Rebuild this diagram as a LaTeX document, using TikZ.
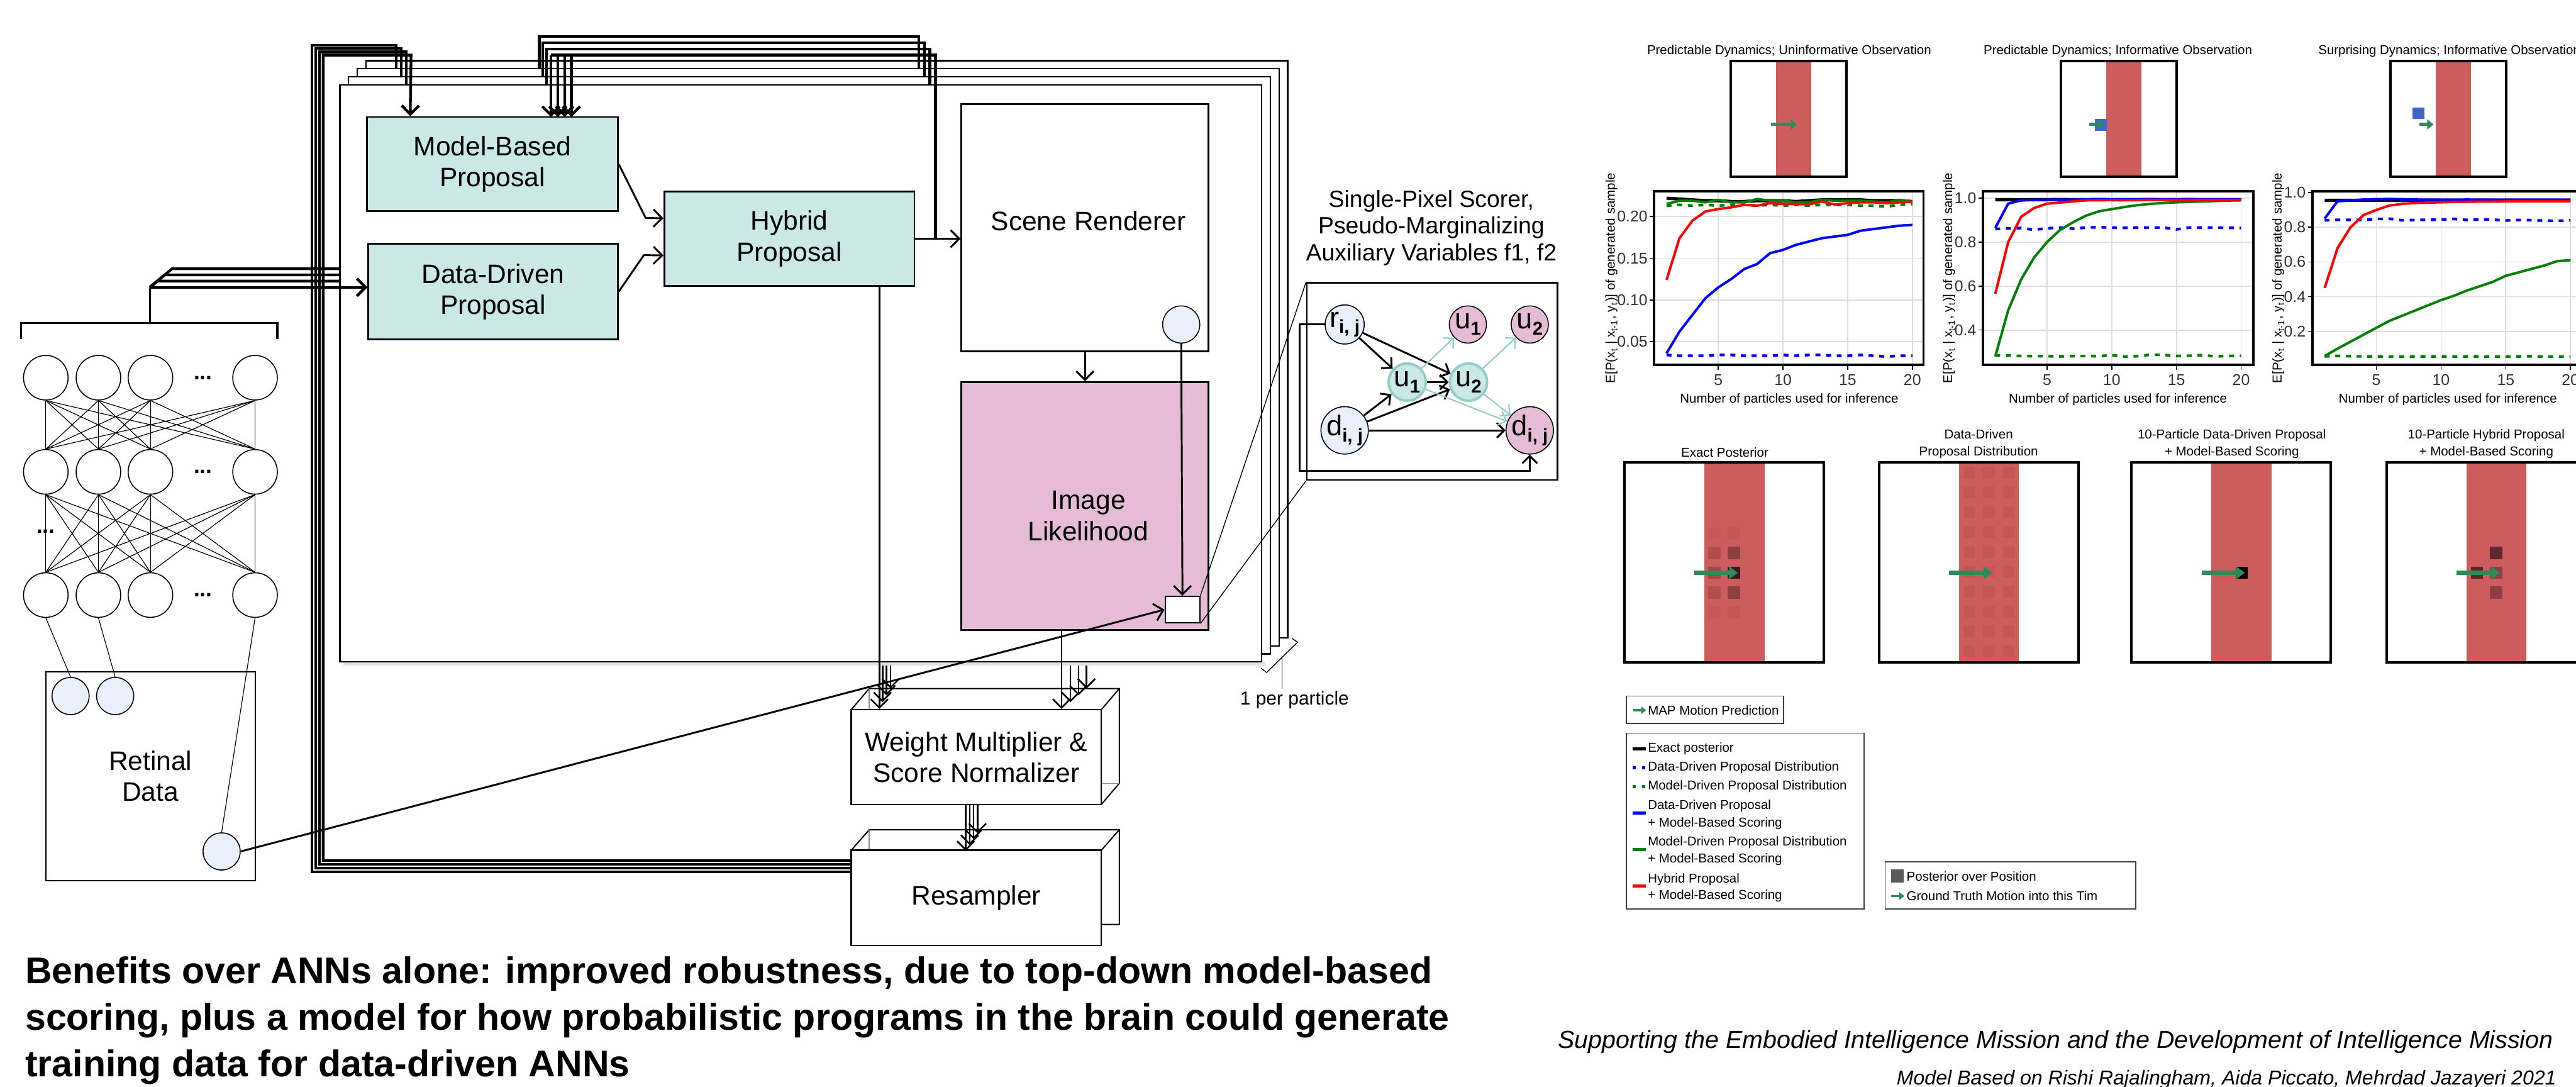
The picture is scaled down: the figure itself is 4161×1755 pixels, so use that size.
\documentclass[tikz,border=0pt]{standalone}
\usepackage{fontspec}
\setmainfont{Liberation Sans}
\usetikzlibrary{arrows.meta,calc}
\definecolor{tealf}{RGB}{201,232,230}
\definecolor{pinkf}{RGB}{230,187,214}
\definecolor{bluef}{RGB}{234,240,250}
\definecolor{tealb}{RGB}{150,204,199}
\definecolor{stripe}{RGB}{205,92,92}
\definecolor{seag}{RGB}{46,139,87}
\definecolor{bsq}{RGB}{65,100,205}
\definecolor{ggreen}{RGB}{0,128,0}
\definecolor{c1}{RGB}{198,88,88}\definecolor{c2}{RGB}{176,78,78}\definecolor{c3}{RGB}{160,72,72}
\definecolor{c4}{RGB}{193,86,86}\definecolor{c5}{RGB}{142,63,63}\definecolor{c6}{RGB}{58,26,26}
\definecolor{c7}{RGB}{196,86,86}\definecolor{c8}{RGB}{92,41,41}\definecolor{c9}{RGB}{96,42,42}
\newcommand\sbx[1]{\raisebox{-0.4ex}{\fontsize{7.5}{7.5}\selectfont\bfseries #1}}
\newcommand\series[3]{\draw[#1] (1,#2) \foreach \v [count=\i from 2] in {#3} {-- (\i,\v)};}
\tikzset{
 mybox/.style={draw, line width=0.7pt, inner sep=0pt, align=center, font=\fontsize{10.8}{12.5}\selectfont},
 tbox/.style={mybox, fill=tealf},
 lbl/.style={inner sep=0pt, align=center, font=\fontsize{10.8}{12.5}\selectfont},
 arr/.style={line width=0.75pt, -{Straight Barb[length=3.5pt,width=7pt]}},
 fbl/.style={line width=1.1pt},
 fba/.style={line width=1.1pt, -{Straight Barb[length=3.5pt,width=7pt]}},
 mla/.style={line width=0.65pt, -{Straight Barb[length=3.5pt,width=7pt]}},
 neuron/.style={circle, draw, line width=0.4pt, minimum size=18pt, inner sep=0pt},
 pix/.style={circle, draw, line width=0.4pt, fill=bluef, minimum size=15pt, inner sep=0pt},
 nedge/.style={line width=0.3pt},
 frm/.style={draw, fill=white, line width=0.6pt},
 dots/.style={inner sep=0pt, font=\fontsize{9}{9}\selectfont\bfseries},
 gnode/.style={circle, draw, line width=0.4pt, minimum size=15pt, inner sep=0pt, font=\fontsize{11.5}{12}\selectfont},
 garr/.style={line width=0.75pt, -{Straight Barb[length=3pt,width=6pt]}},
 tarr/.style={line width=0.55pt, draw=tealb, -{Straight Barb[length=3pt,width=6pt]}},
 ptxt/.style={font=\fontsize{5.2}{7}\selectfont, inner sep=0pt},
 ttxt/.style={font=\fontsize{6.3}{7}\selectfont, inner sep=0pt, text=black!80},
 pborder/.style={draw, line width=1pt},
 gridl/.style={draw=black!13, line width=0.45pt},
 sline/.style={line width=1pt, line join=round},
 dline/.style={line width=1.1pt, dash pattern=on 2pt off 2.3pt},
 motion/.style={draw=seag, line width=1.7pt, -{Triangle[length=3.5pt,width=5pt]}},
 tmotion/.style={draw=seag, line width=1.2pt, -{Triangle[length=2.6pt,width=4pt]}},
}
\begin{document}
\begin{tikzpicture}[x=0.25pt,y=-0.25pt]
\clip (0,0) rectangle (4161,1755);
\fill[white] (0,0) rectangle (4161,1755);

%% ---------------- neural network
\foreach \yy [count=\r] in {610,762,961}{
  \foreach \xx [count=\c] in {74,159,243,412}{
    \node[neuron] (n\r\c) at (\xx,\yy) {};
  }
  \node[dots] at (328,\yy) {...};
}
\node[dots] at (74,858) {...};
\foreach \a in {1,...,4}{\foreach \b in {1,...,4}{
  \draw[nedge] (n1\a.south) -- (n2\b.north);
  \draw[nedge] (n2\a.south) -- (n3\b.north);
}}
\coordinate (brk) at (242,464);
\draw[line width=0.8pt] (34,548) -- (34,522) -- (448,522) -- (448,548);
\draw[line width=0.8pt] (242,522) -- (brk);

%% retinal data
\node[mybox, line width=0.5pt, minimum width=84.5pt, minimum height=84.25pt] (rd) at (243,1253.5) {Retinal\\Data};
\node[pix] (p1) at (114,1124) {};
\node[pix] (p2) at (186,1124) {};
\node[pix] (p3) at (358,1375) {};
\draw[nedge] (n31.south) -- (p1.north);
\draw[nedge] (n32.south) -- (p2.north);
\draw[nedge] (n34.south) -- (p3.north);

%% weight multiplier (cube) and resampler (stack)
\filldraw[fill=white, line width=0.5pt] (1375,1146) -- (1404,1112) -- (1808,1112) -- (1808,1265) -- (1779,1299) -- cycle;
\draw[black!45, line width=0.3pt] (1404,1112) -- (1404,1146) (1779,1265) -- (1808,1265);
\draw[line width=0.5pt] (1779,1146) -- (1808,1112);
\node[mybox, fill=white, line width=0.6pt, minimum width=101pt, minimum height=38.25pt] (wm) at (1577,1222.5) {Weight Multiplier \&\\Score Normalizer};
\filldraw[fill=white, line width=0.5pt] (1375,1373) -- (1404,1340) -- (1808,1340) -- (1808,1493) -- (1779,1493);
\draw[black!45, line width=0.3pt] (1404,1340) -- (1404,1373);
\draw[line width=0.5pt] (1779,1373) -- (1808,1340);
\node[mybox, fill=white, line width=0.6pt, minimum width=101pt, minimum height=38.5pt] (rs) at (1577,1450) {Resampler};
\foreach \i in {0,1,2,3}
  \draw[mla] ($(wm.south)+({-17+6.3*\i},0)$) -- ++(0,{74-9.5*\i});

%% ---------------- stacked particle frames (back to front)
\foreach \k in {3,2,1}{
  \draw[frm] (549+14*\k,137-13*\k) rectangle (2038+14*\k,1069-13*\k);
  \draw[fbl] (1375,1390+6*\k) -- (522-6*\k,1390+6*\k) -- (522-6*\k,89-5.3*\k) -- (664-8*\k,89-5.3*\k) -- (664-8*\k,189-13*\k);
  \draw[fbl] (1511-9*\k,386-13*\k) -- (1511-9*\k,89-10*\k) -- (889-6*\k,89-10*\k) -- (889-6*\k,189-13*\k);
  \draw[fbl] (brk) -- (242+12*\k,464-10*\k) -- (595+14*\k,464-10*\k);
  \draw[mla] (1419+6.5*\k,462-13*\k) -- (1419+6.5*\k,1145-11*\k);
  \draw[mla] (1716+13*\k,1017-13*\k) -- (1716+13*\k,1145-11*\k);
}
% front frame
\fill[black!12] (555,1069) rectangle (2044,1075);
\draw[frm] (549,137) rectangle (2038,1069);
\node[tbox, minimum width=101.25pt, minimum height=38pt] (mb) at (795.5,265) {Model-Based\\Proposal};
\node[tbox, minimum width=100.75pt, minimum height=38.5pt] (dd) at (796.5,471) {Data-Driven\\Proposal};
\node[tbox, minimum width=101pt, minimum height=38.25pt] (hy) at (1275,385.5) {Hybrid\\Proposal};
\node[mybox, fill=white, minimum width=99.75pt, minimum height=99.75pt] (sr) at (1752.5,367.5) {};
\node[lbl] at (1758,357) {Scene Renderer};
\node[mybox, fill=pinkf, minimum width=99.75pt, minimum height=100pt] (il) at (1752.5,817) {};
\node[lbl] at (1758,833) {Image\\Likelihood};
\node[pix] (sc) at (1908,524) {};
\node[draw, fill=white, line width=0.5pt, minimum width=14pt, minimum height=10.75pt, inner sep=0pt] (sq) at (1910,984.5) {};

\draw[arr] (mb.east) -- (1043,352) -- ($(hy.west)+(0,-33)$);
\draw[arr] (dd.east) -- (1040,412) -- ($(hy.west)+(0,27)$);
\draw[arr] (hy.east) -- (sr.west |- hy.east);
\coordinate (jn) at (1511,386);
\draw[arr] (sr.south) -- (il.north);
\draw[arr] (sc.south) -- (sq.north);
% front-layer feedback and data lines
\draw[fba] ($(rs.west)+(0,-60)$) -- (522,1390) -- (522,89) -- (664,89) -- ($(mb.north west)+(71,0)$);
\draw[fbl] (jn) -- (1511,89) -- (890,89);
\foreach \xx in {890,901,912,923} \draw[fba] (\xx,89) -- (\xx,189);
\draw[fba] (brk) -- (brk -| dd.west);
\draw[mla] ($(hy.south east)+(-58,0)$) coordinate (h0) -- (h0 |- wm.north);
\draw[mla] ($(il.south west)+(163,0)$) coordinate (i0) -- (i0 |- wm.north);

%% 1 per particle
\draw[line width=0.35pt] (2037,1079) -- (2046,1086) -- (2096,1037) -- (2087,1031);
\draw[line width=0.35pt] (2071,1061) -- (2071,1112);
\node[inner sep=0pt, font=\fontsize{7.6}{9}\selectfont] at (2091,1130) {1 per particle};

%% ---------------- single pixel scorer
\node[inner sep=0pt, align=center, font=\fontsize{9.5}{10.9}\selectfont] at (2312,368) {Single-Pixel Scorer,\\Pseudo-Marginalizing\\Auxiliary Variables f1, f2};
\node[draw, fill=white, line width=0.7pt, minimum width=101.25pt, minimum height=79.5pt, inner sep=0pt] (scb) at (2313.5,616) {};
\node[gnode, fill=bluef] (r) at (2172,524) {r\sbx{i, j}};
\node[gnode, fill=pinkf] (pu1) at (2371,524) {u\sbx{1}};
\node[gnode, fill=pinkf] (pu2) at (2471,524) {u\sbx{2}};
\node[gnode, fill=tealf, draw=tealb, line width=1pt] (tu1) at (2273,617) {u\sbx{1}};
\node[gnode, fill=tealf, draw=tealb, line width=1pt] (tu2) at (2372,617) {u\sbx{2}};
\node[gnode, fill=bluef] (db) at (2172,695) {d\sbx{i, j}};
\node[gnode, fill=pinkf] (dp) at (2471,695) {d\sbx{i, j}};
\draw[garr] (r) -- (tu1);
\draw[garr] (r) -- (tu2);
\draw[garr] (db) -- (tu1);
\draw[garr] (db) -- (tu2);
\draw[garr] (tu1) -- (tu2);
\draw[garr] (db) -- (dp);
\draw[tarr] (tu1) -- (pu1);
\draw[tarr] (tu2) -- (pu2);
\draw[tarr] (tu1) -- (dp);
\draw[tarr] (tu2) -- (dp);
\draw[garr] (r.west) -- ++(-40,0) |- ($(dp.south)+(0,26)$) -- (dp.south);

%% zoom lines and retinal pixel link
\draw[line width=0.35pt] (sq.north east) -- (scb.north west);
\draw[line width=0.35pt] (sq.south east) -- (scb.south west);
\draw[arr] (p3.east) -- (sq.west);

%% ---------------- plots: thumbnails
\node[ptxt] at (2890,83) {Predictable Dynamics; Uninformative Observation};
\node[ptxt] at (3421,83) {Predictable Dynamics; Informative Observation};
\node[ptxt, anchor=west] at (3744,83) {Surprising Dynamics; Informative Observation};
\foreach \T in {2796,3329,3861}{
  \fill[stripe] (\T+73,99) rectangle (\T+130,285);
}
\fill[bsq] (3384,192) rectangle (3403,211);
\fill[bsq] (3897,174) rectangle (3916,192);
\draw[tmotion] (2861,201) -- (2903,201);
\draw[tmotion] (3375,201) -- (3400,201);
\draw[tmotion] (3908,201) -- (3931,201);
\foreach \T in {2796,3329,3861}{
  \draw[pborder] (\T,99) rectangle (\T+187,285);
}

%% plot 1
\begin{scope}
 \clip (2672,309) rectangle (3107,589);
 \foreach \v in {0.05,0.10,0.15,0.20} \draw[gridl] (2672,619-1346.7*\v) -- (3107,619-1346.7*\v);
 \foreach \n in {5,10,15,20} \draw[gridl] (2671+20.9*\n,309) -- (2671+20.9*\n,589);
 \begin{scope}[shift={(2671,619)},x={(5.225pt,0pt)},y={(0pt,336.675pt)}]
  \series{sline,black,line width=1.3pt}{0.222}{0.221,0.220,0.219,0.219,0.218,0.218,0.219,0.219,0.219,0.218,0.219,0.220,0.220,0.220,0.220,0.219,0.219,0.219,0.218}
  \series{dline,blue}{0.034}{0.033,0.033,0.033,0.034,0.034,0.033,0.033,0.033,0.034,0.033,0.034,0.034,0.033,0.033,0.034,0.033,0.032,0.033,0.033}
  \series{dline,ggreen}{0.213}{0.214,0.213,0.214,0.213,0.214,0.214,0.213,0.214,0.213,0.214,0.213,0.214,0.214,0.214,0.213,0.213,0.212,0.214,0.215}
  \series{sline,blue}{0.036}{0.062,0.082,0.102,0.115,0.125,0.137,0.143,0.156,0.160,0.166,0.170,0.174,0.176,0.178,0.183,0.185,0.187,0.189,0.190}
  \series{sline,ggreen}{0.215}{0.219,0.219,0.217,0.220,0.217,0.217,0.221,0.219,0.219,0.217,0.217,0.220,0.219,0.219,0.219,0.218,0.217,0.220,0.218}
  \series{sline,red}{0.124}{0.174,0.195,0.206,0.209,0.211,0.214,0.213,0.216,0.215,0.215,0.2145,0.218,0.2145,0.216,0.217,0.217,0.216,0.217,0.218}
 \end{scope}
\end{scope}
\draw[pborder] (2672,309) rectangle (3107,589);
\foreach \n in {5,10,15,20}{\draw[line width=0.4pt] (2671+20.9*\n,589) -- ++(0,8); \node[ttxt] at (2671+20.9*\n,614) {\n};}
\foreach \v/\l in {0.05/0.05,0.10/0.10,0.15/0.15,0.20/0.20}{\draw[line width=0.4pt] (2672,619-1346.7*\v) -- ++(-7,0); \node[ttxt,anchor=east] at (2662,619-1346.7*\v) {\l};}
\node[ptxt] at (2890,645) {Number of particles used for inference};
\node[ptxt, rotate=90] at (2603,449) {E[P(x\textsubscript{t} | x\textsubscript{t-1}, y\textsubscript{t})] of generated sample};

%% plot 2
\begin{scope}
 \clip (3203,309) rectangle (3640,589);
 \foreach \v in {0.4,0.6,0.8,1.0} \draw[gridl] (3203,675-355*\v) -- (3640,675-355*\v);
 \foreach \n in {5,10,15,20} \draw[gridl] (3202+20.9*\n,309) -- (3202+20.9*\n,589);
 \begin{scope}[shift={(3202,675)},x={(5.225pt,0pt)},y={(0pt,88.75pt)}]
  \series{sline,black,line width=1.3pt}{0.993}{0.993,0.992,0.993,0.993,0.994,0.993,0.993,0.994,0.993,0.993,0.993,0.994,0.993,0.993,0.994,0.993,0.993,0.993,0.993}
  \series{dline,blue}{0.860}{0.862,0.864,0.856,0.863,0.866,0.861,0.866,0.868,0.866,0.865,0.866,0.866,0.866,0.858,0.866,0.866,0.866,0.865,0.864}
  \series{dline,ggreen}{0.285}{0.284,0.282,0.281,0.281,0.280,0.281,0.282,0.281,0.286,0.279,0.281,0.288,0.287,0.282,0.283,0.286,0.280,0.282,0.283}
  \series{sline,blue}{0.865}{0.975,0.990,0.992,0.993,0.993,0.993,0.994,0.994,0.994,0.995,0.995,0.995,0.995,0.995,0.995,0.995,0.995,0.995,0.995}
  \series{sline,ggreen}{0.28}{0.49,0.63,0.73,0.80,0.855,0.89,0.92,0.94,0.95,0.96,0.968,0.974,0.978,0.981,0.983,0.985,0.987,0.989,0.99}
  \series{sline,red}{0.565}{0.80,0.915,0.955,0.975,0.98,0.985,0.99,0.99,0.991,0.991,0.991,0.992,0.992,0.992,0.992,0.992,0.992,0.992,0.992}
 \end{scope}
\end{scope}
\draw[pborder] (3203,309) rectangle (3640,589);
\foreach \n in {5,10,15,20}{\draw[line width=0.4pt] (3202+20.9*\n,589) -- ++(0,8); \node[ttxt] at (3202+20.9*\n,614) {\n};}
\foreach \v/\l in {0.4/0.4,0.6/0.6,0.8/0.8,1.0/1.0}{\draw[line width=0.4pt] (3203,675-355*\v) -- ++(-7,0); \node[ttxt,anchor=east] at (3193,675-355*\v) {\l};}
\node[ptxt] at (3421,645) {Number of particles used for inference};
\node[ptxt, rotate=90] at (3148,449) {E[P(x\textsubscript{t} | x\textsubscript{t-1}, y\textsubscript{t})] of generated sample};

%% plot 3
\begin{scope}
 \clip (3735,309) rectangle (4170,589);
 \foreach \v in {0.2,0.4,0.6,0.8,1.0} \draw[gridl] (3735,591-280*\v) -- (4170,591-280*\v);
 \foreach \n in {5,10,15,20} \draw[gridl] (3734+20.9*\n,309) -- (3734+20.9*\n,589);
 \begin{scope}[shift={(3734,591)},x={(5.225pt,0pt)},y={(0pt,70pt)}]
  \series{sline,black,line width=1.3pt}{0.955}{0.955,0.955,0.956,0.956,0.955,0.955,0.955,0.956,0.955,0.955,0.955,0.956,0.955,0.955,0.955,0.955,0.955,0.955,0.955}
  \series{dline,blue}{0.840}{0.843,0.843,0.842,0.848,0.849,0.840,0.842,0.843,0.844,0.848,0.842,0.845,0.844,0.839,0.842,0.841,0.838,0.837,0.840}
  \series{dline,ggreen}{0.055}{0.058,0.056,0.055,0.055,0.054,0.054,0.055,0.055,0.055,0.054,0.055,0.055,0.054,0.054,0.055,0.056,0.054,0.054,0.054}
  \series{sline,blue}{0.85}{0.95,0.955,0.960,0.962,0.963,0.962,0.960,0.959,0.959,0.959,0.960,0.959,0.959,0.959,0.959,0.959,0.959,0.959,0.959}
  \series{sline,ggreen}{0.057}{0.10,0.14,0.18,0.22,0.26,0.29,0.32,0.35,0.38,0.405,0.435,0.46,0.485,0.52,0.54,0.56,0.58,0.605,0.61}
  \series{sline,red}{0.45}{0.68,0.80,0.87,0.90,0.925,0.935,0.94,0.942,0.944,0.946,0.947,0.948,0.948,0.949,0.95,0.95,0.95,0.95,0.95}
 \end{scope}
\end{scope}
\draw[pborder] (3735,309) rectangle (4170,589);
\foreach \n in {5,10,15,20}{\draw[line width=0.4pt] (3734+20.9*\n,589) -- ++(0,8); \node[ttxt] at (3734+20.9*\n,614) {\n};}
\foreach \v/\l in {0.2/0.2,0.4/0.4,0.6/0.6,0.8/0.8,1.0/1.0}{\draw[line width=0.4pt] (3735,591-280*\v) -- ++(-7,0); \node[ttxt,anchor=east] at (3725,591-280*\v) {\l};}
\node[ptxt] at (3954,645) {Number of particles used for inference};
\node[ptxt, rotate=90] at (3680,449) {E[P(x\textsubscript{t} | x\textsubscript{t-1}, y\textsubscript{t})] of generated sample};

%% ---------------- lower posterior panels
\node[ptxt] at (2786,731) {Exact Posterior};
\node[ptxt, align=center] at (3196,717) {Data-Driven\\Proposal Distribution};
\node[ptxt, align=center] at (3605,717) {10-Particle Data-Driven Proposal\\+ Model-Based Scoring};
\node[ptxt, align=center] at (4016,717) {10-Particle Hybrid Proposal\\+ Model-Based Scoring};
\foreach \L in {2624,3035,3443,3855}{
  \fill[stripe] (\L+129,747) rectangle (\L+226,1070);
}
% panel 1 cells
\fill[c1] (2759,851) rectangle ++(20,20);
\fill[c2] (2759,883) rectangle ++(20,20);
\fill[c3] (2759,915) rectangle ++(20,20);
\fill[c2] (2759,947) rectangle ++(20,20);
\fill[c1] (2759,979) rectangle ++(20,20);
\fill[c4] (2791,851) rectangle ++(20,20);
\fill[c5] (2791,883) rectangle ++(20,20);
\fill[c6] (2791,915) rectangle ++(20,20);
\fill[c5] (2791,947) rectangle ++(20,20);
\fill[c4] (2791,979) rectangle ++(20,20);
% panel 2 cells
\foreach \j in {0,...,9}{\foreach \cc in {3171,3203,3235}{\fill[c7] (\cc,754+32*\j) rectangle ++(19,19);}}
% panel 3 cell
\fill[black] (3611,915) rectangle ++(20,20);
% panel 4 cells
\fill[c8] (3991,915) rectangle ++(20,20);
\fill[c9] (4022,883) rectangle ++(20,20);
\fill[c5] (4022,915) rectangle ++(20,20);
\fill[c5] (4022,947) rectangle ++(20,20);
\foreach \L in {2624,3035,3443,3855}{
  \draw[motion] (\L+113,925) -- (\L+183,925);
  \draw[pborder] (\L,747) rectangle (\L+322,1070);
}

%% ---------------- legends
\draw[line width=0.4pt, draw=black!75] (2627,1124) rectangle (2881,1168);
\draw[draw=seag, line width=0.9pt, -{Triangle[length=2pt,width=3pt]}] (2638,1147) -- (2659,1147);
\node[ptxt, anchor=west] at (2661,1147) {MAP Motion Prediction};

\draw[line width=0.4pt, draw=black!75] (2627,1184) rectangle (3011,1468);
\draw[black, line width=1.3pt] (2637,1209) -- (2658,1209);
\draw[blue, line width=1.3pt, dash pattern=on 1.2pt off 2.6pt] (2637,1240) -- (2658,1240);
\draw[ggreen, line width=1.3pt, dash pattern=on 1.2pt off 2.6pt] (2637,1270) -- (2658,1270);
\draw[blue, line width=1.3pt] (2637,1313) -- (2658,1313);
\draw[ggreen, line width=1.3pt] (2637,1372) -- (2658,1372);
\draw[red, line width=1.3pt] (2637,1431) -- (2658,1431);
\node[ptxt, anchor=west] at (2661,1209) {Exact posterior};
\node[ptxt, anchor=west] at (2661,1240) {Data-Driven Proposal Distribution};
\node[ptxt, anchor=west] at (2661,1270) {Model-Driven Proposal Distribution};
\node[ptxt, anchor=west] at (2661,1302) {Data-Driven Proposal};
\node[ptxt, anchor=west] at (2661,1330) {+ Model-Based Scoring};
\node[ptxt, anchor=west] at (2661,1360) {Model-Driven Proposal Distribution};
\node[ptxt, anchor=west] at (2661,1388) {+ Model-Based Scoring};
\node[ptxt, anchor=west] at (2661,1420) {Hybrid Proposal};
\node[ptxt, anchor=west] at (2661,1447) {+ Model-Based Scoring};

\draw[line width=0.4pt, draw=black!75] (3045,1392) rectangle (3450,1468);
\fill[black!65] (3055,1404) rectangle (3075,1425);
\draw[draw=seag, line width=0.9pt, -{Triangle[length=2pt,width=3pt]}] (3055,1447) -- (3076,1447);
\node[ptxt, anchor=west] at (3079,1415) {Posterior over Position};
\node[ptxt, anchor=west] at (3079,1447) {Ground Truth Motion into this Tim};

%% ---------------- bottom texts
\node[anchor=west, inner sep=0pt, align=left, font=\fontsize{15}{18.8}\selectfont\bfseries] at (40,1648) {Benefits over ANNs alone: improved robustness, due to top-down model-based\\scoring, plus a model for how probabilistic programs in the brain could generate\\training data for data-driven ANNs};
\node[anchor=east, inner sep=0pt, font=\fontsize{10}{12}\selectfont\itshape] at (4125,1683) {Supporting the Embodied Intelligence Mission and the Development of Intelligence Mission};
\node[anchor=base east, inner sep=0pt, font=\fontsize{8.15}{10}\selectfont\itshape] at (4130,1752) {Model Based on Rishi Rajalingham, Aida Piccato, Mehrdad Jazayeri 2021};
\end{tikzpicture}
\end{document}
